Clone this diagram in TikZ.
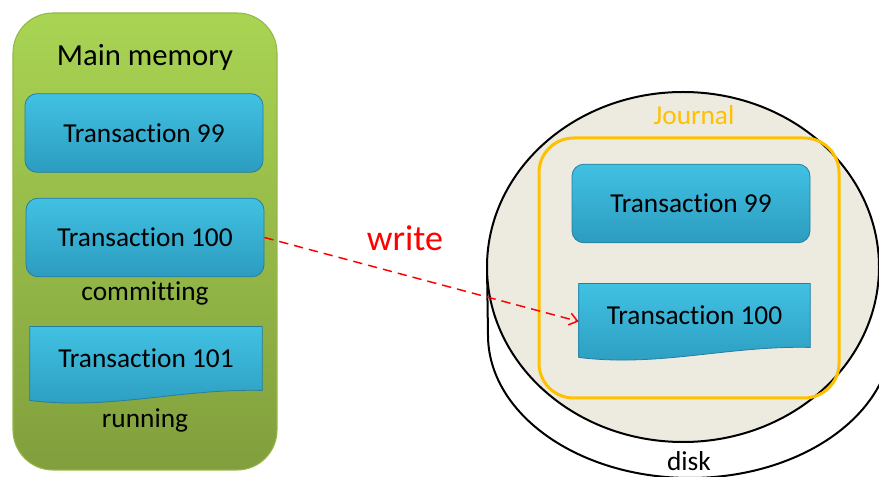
\documentclass[tikz,border=0pt]{standalone}
\usepackage{fontspec}
\setmainfont{Carlito}[Ligatures=NoCommon]
\usetikzlibrary{arrows.meta,calc,backgrounds}

\definecolor{memtop}{HTML}{A9D453}
\definecolor{membot}{HTML}{819F3D}
\definecolor{memedge}{HTML}{95B846}
\definecolor{bluetop}{HTML}{41C1E2}
\definecolor{bluebot}{HTML}{2C9CC0}
\definecolor{blueedge}{HTML}{277E9E}
\definecolor{diskfill}{HTML}{EDEBE0}
\definecolor{journal}{HTML}{FFC000}
\definecolor{writered}{HTML}{FF0000}

\tikzset{
  txt/.style={font=\fontsize{20.5}{24}\selectfont, inner sep=0pt},
  membox/.style={rectangle, rounded corners=30pt, top color=memtop, bottom color=membot,
    draw=memedge, line width=0.8pt, minimum width=198pt, minimum height=342.75pt},
  tbox/.style={txt, rectangle, rounded corners=9pt, top color=bluetop, bottom color=bluebot,
    draw=blueedge, line width=0.6pt, minimum width=178.5pt, minimum height=59pt},
  docbox/.style={txt, rectangle, minimum width=174pt, minimum height=47.5pt},
  docfill/.style={top color=bluetop, bottom color=bluebot, draw=blueedge, line width=0.6pt},
  jbox/.style={rectangle, rounded corners=26pt, draw=journal, line width=2.25pt,
    minimum width=225pt, minimum height=195pt},
  diskline/.style={draw=black, line width=1.5pt},
  writearrow/.style={draw=writered, line width=1.1pt, dash pattern=on 7pt off 4.5pt,
    -{Straight Barb[length=6pt,width=9pt,line width=1.1pt]}},
}

% blue box with a wavy lower edge, drawn behind the named node
\newcommand\wavyback[1]{%
  \path[docfill] (#1.north west) -- (#1.north east) -- (#1.south east)
    .. controls +(-82,-2) and +(80,10) .. ($(#1.south west)+(0,10)$) -- cycle;}

\begin{document}
\begin{tikzpicture}[x=0.75pt,y=-0.75pt]
  \useasboundingbox (0,0) rectangle (879,477);

  % main memory panel
  \node[font=\fontsize{23}{27}\selectfont, inner sep=0pt] (memlabel) at (145,57) {Main memory};
  \node[tbox] (m99) at (144,133) {Transaction 99};
  \node[tbox] (m100) at (145,237.5) {Transaction 100};
  \node[txt] (committing) at (145,293) {committing};
  \node[docbox] (m101) at (146,358.5) {Transaction 101};
  \node[txt] (running) at (145,420) {running};

  % disk labels and journal contents
  \node[txt] (disk) at (689,461) {disk};
  \node[txt, text=journal] (journallabel) at (694,115) {Journal};
  \node[tbox] (j99) at (691,203.5) {Transaction 99};
  \node[docbox, minimum width=173.25pt] (j100) at (694.5,315.5) {Transaction 100};

  \begin{scope}[on background layer]
    \node[membox] (mem) at (145,241.5) {};
    % disk: side and lower rim, then the top face
    \draw[diskline] (487,267) -- (488,335) arc[start angle=180, end angle=0, x radius=202, y radius=143];
    \path[diskline, fill=diskfill] (683,267) ellipse[x radius=196, y radius=175];
    \node[jbox] (journalbox) at (689,268) {};
    \wavyback{m101}
    \wavyback{j100}
  \end{scope}

  % write path
  \draw[writearrow] (m100.east) -- ([yshift=-4.5pt]j100.west);
  \node[font=\fontsize{27}{31}\selectfont, text=writered, inner sep=0pt] (write) at (405,238) {write};
\end{tikzpicture}
\end{document}
